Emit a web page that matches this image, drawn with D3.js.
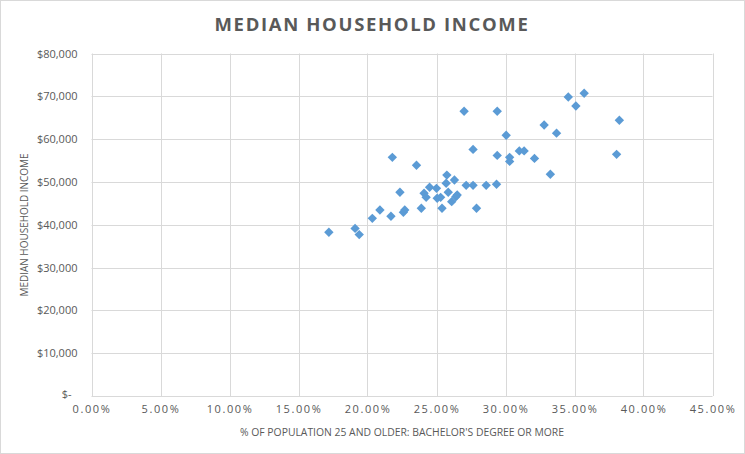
<!DOCTYPE html>
<html>
<head>
<meta charset="utf-8">
<script src="https://cdn.jsdelivr.net/npm/d3@7"></script>
<style>
  html, body { margin: 0; padding: 0; background: #fff; }
  svg { display: block; }
  text { font-family: "Open Sans", sans-serif; fill: #595959; }
</style>
</head>
<body>
<svg id="chart" width="745" height="454"></svg>
<script>
// Data: % of population 25+ with bachelor's degree or more, and median household income
const bachelorPct = [
  17.2, 19.1, 19.4, 20.35, 20.9, 21.7, 21.8, 22.35, 22.6, 22.7,
  23.55, 23.9, 24.1, 24.25, 24.5, 25.0, 25.05, 25.3, 25.4, 25.7,
  25.75, 25.85, 26.1, 26.3, 26.4, 26.5, 27.15, 27.65, 27.65, 27.9,
  27.0, 29.4, 30.05, 29.4, 30.3, 30.3, 31.0, 31.35, 32.1, 32.8,
  33.7, 33.25, 34.55, 35.7, 35.1, 38.25, 38.05, 28.6, 29.35
];
const medianIncome = [
  38250, 39150, 37700, 41500, 43450, 42000, 55750, 47600, 42900, 43450,
  53900, 43850, 47350, 46400, 48750, 48500, 46200, 46400, 43850, 49700,
  51600, 47600, 45400, 50450, 46550, 46950, 49200, 57600, 49200, 43850,
  66500, 66500, 60900, 56200, 55750, 54800, 57250, 57250, 55500, 63300,
  61400, 51800, 69850, 70700, 67750, 64400, 56450, 49200, 49450
];
const xTicks = [0, 5, 10, 15, 20, 25, 30, 35, 40, 45];
const yTicks = [0, 10000, 20000, 30000, 40000, 50000, 60000, 70000, 80000];
const chartTitle = "MEDIAN HOUSEHOLD INCOME";
const xTitle = "% OF POPULATION 25 AND OLDER: BACHELOR'S DEGREE OR MORE";
const yTitle = "MEDIAN HOUSEHOLD INCOME";

const W = 745, H = 454;
const margin = { left: 91.5, right: 745 - 712.5, top: 53.5, bottom: 454 - 396 };
const svg = d3.select("#chart");

// outer border
svg.append("rect").attr("x", 0.5).attr("y", 0.5).attr("width", W - 1).attr("height", H - 1)
  .attr("fill", "#fff").attr("stroke", "#d9d9d9");

const x = d3.scaleLinear().domain([0, 45]).range([margin.left, W - margin.right]);
const y = d3.scaleLinear().domain([0, 80000]).range([H - margin.bottom, margin.top]);

// gridlines
const grid = svg.append("g");
grid.selectAll("line.h").data(yTicks).enter().append("line")
  .attr("x1", x(0)).attr("x2", x(45))
  .attr("y1", d => Math.round(y(d)) + 0.5).attr("y2", d => Math.round(y(d)) + 0.5)
  .attr("stroke", "#d9d9d9").attr("stroke-width", 1);
grid.selectAll("line.v").data(xTicks).enter().append("line")
  .attr("y1", y(0)).attr("y2", y(80000))
  .attr("x1", d => Math.round(x(d)) + 0.5).attr("x2", d => Math.round(x(d)) + 0.5)
  .attr("stroke", "#d9d9d9").attr("stroke-width", 1);

// y axis labels
const yAxis = d3.axisLeft(y).tickValues(yTicks).tickSize(0).tickPadding(14)
  .tickFormat(d => d === 0 ? "$-" : "$" + d3.format(",")(d));
const gy = svg.append("g").attr("transform", `translate(${x(0)},0)`).call(yAxis);
gy.select(".domain").remove();
gy.selectAll("text").style("font-size", "11px").attr("fill", "#595959")
  .attr("dx", d => d === 0 ? -6 : 0).attr("dy", d => d === 0 ? "0.1em" : "0.32em");

// x axis labels
const xAxis = d3.axisBottom(x).tickValues(xTicks).tickSize(0).tickPadding(9)
  .tickFormat(d => d3.format(".2f")(d) + "%");
const gx = svg.append("g").attr("transform", `translate(0,${y(0)})`).call(xAxis);
gx.select(".domain").remove();
gx.selectAll("text").style("font-size", "11px").style("letter-spacing", "1.6px").attr("fill", "#595959");

// points (diamonds)
const diamond = d3.symbol().type(d3.symbolSquare).size(44);
svg.append("g").selectAll("path").data(bachelorPct.map((v, i) => [v, medianIncome[i]]))
  .enter().append("path")
  .attr("d", diamond)
  .attr("transform", d => `translate(${x(d[0])},${y(d[1])}) rotate(45)`)
  .attr("fill", "#5B9BD5");

// title
svg.append("text").attr("x", 372).attr("y", 31).attr("text-anchor", "middle")
  .style("font-size", "18.5px").style("font-weight", "bold").style("letter-spacing", "1.65px")
  .attr("fill", "#595959").text(chartTitle);

// axis titles
svg.append("text").attr("x", 402).attr("y", 436).attr("text-anchor", "middle")
  .style("font-size", "11px").attr("textLength", 324).attr("lengthAdjust", "spacingAndGlyphs")
  .text(xTitle);
svg.append("text").attr("transform", "translate(28,225) rotate(-90)").attr("text-anchor", "middle")
  .style("font-size", "11px").attr("textLength", 143).attr("lengthAdjust", "spacingAndGlyphs")
  .text(yTitle);
</script>
</body>
</html>
